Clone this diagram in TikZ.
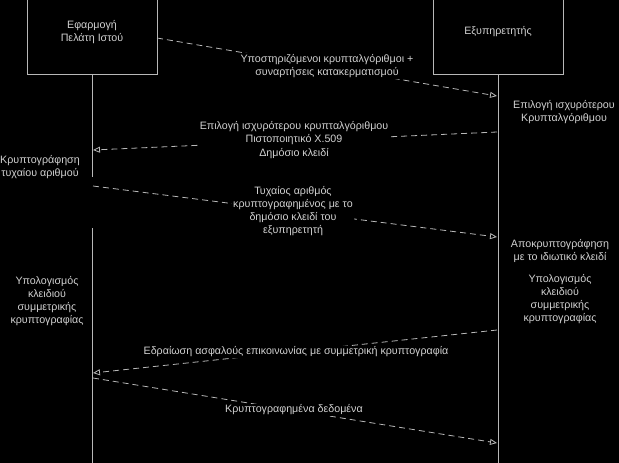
\documentclass[tikz,border=0pt]{standalone}
\usepackage{fontspec}
\setmainfont{Liberation Sans}
\usetikzlibrary{arrows.meta}
\definecolor{fg}{gray}{0.72}
\definecolor{tx}{gray}{0.82}
\tikzset{
  actor/.style={draw=fg, line width=0.9pt, minimum width=130pt, minimum height=84pt, text=tx, align=center, inner sep=0pt, font=\fontsize{10.7}{13}\selectfont},
  life/.style={draw=fg, line width=0.9pt},
  msg/.style={draw=fg, line width=0.8pt, dash pattern=on 6pt off 4pt, -{Triangle[open, length=7pt, width=6pt]}},
  lbl/.style={text=tx, fill=black, align=center, inner sep=1pt, font=\fontsize{10.7}{13.2}\selectfont},
  note/.style={text=tx, align=center, inner sep=0pt, font=\fontsize{10.7}{13}\selectfont}
}
\begin{document}
\begin{tikzpicture}[x=1pt, y=-1pt]
\fill[black] (0,0) rectangle (619,463);
\useasboundingbox (0,0) rectangle (619,463);
\clip (0,0) rectangle (619,463);
% actors
\node[actor] (lbox) at (92,32) {Εφαρμογή\\Πελάτη Ιστού};
\node[actor] (rbox) at (498,32) {Εξυπηρετητής};
% lifelines
\coordinate (lA) at (92,177);
\coordinate (lB) at (92,228);
\coordinate (lEnd) at (92,463);
\coordinate (rEnd) at (498,463);
\draw[life] (lbox.south) -- (lA);
\draw[life] (lB) -- (lEnd);
\draw[life] (rbox.south) -- (rEnd);
% message points
\coordinate (m1s) at (157,38);  \coordinate (m1e) at (497,96);
\coordinate (m2s) at (497,132); \coordinate (m2e) at (93,150);
\coordinate (m3s) at (93,186);  \coordinate (m3e) at (497,237);
\coordinate (m4s) at (497,330); \coordinate (m4e) at (93,373);
\coordinate (m5s) at (93,378);  \coordinate (m5e) at (497,443);
\draw[msg] (m1s) -- (m1e);
\draw[msg] (m2s) -- (m2e);
\draw[msg] (m3s) -- (m3e);
\draw[msg] (m4s) -- (m4e);
\draw[msg] (m5s) -- (m5e);
% labels
\node[lbl] (t1) at (327,66) {Υποστηριζόμενοι κρυπταλγόριθμοι +\\συναρτήσεις κατακερματισμού};
\node[lbl] (t2) at (294,140) {Επιλογή ισχυρότερου κρυπταλγόριθμου\\Πιστοποιητικό X.509\\Δημόσιο κλειδί};
\node[lbl] (t3) at (293,211) {Τυχαίος αριθμός\\κρυπτογραφημένος με το\\δημόσιο κλειδί του\\εξυπηρετητή};
\node[lbl] (t4) at (296,352) {Εδραίωση ασφαλούς επικοινωνίας με συμμετρική κρυπτογραφία};
\node[lbl] (t5) at (294,410) {Κρυπτογραφημένα δεδομένα};
% notes
\node[note] (n1) at (564,112) {Επιλογή ισχυρότερου\\Κρυπταλγόριθμου};
\node[note] (n2) at (40,167) {Κρυπτογράφηση\\τυχαίου αριθμού};
\node[note] (n3) at (560,251) {Αποκρυπτογράφηση\\με το ιδιωτικό κλειδί};
\node[note] (n4) at (560,299) {Υπολογισμός\\κλειδιού\\συμμετρικής\\κρυπτογραφίας};
\node[note] (n5) at (47,301) {Υπολογισμός\\κλειδιού\\συμμετρικής\\κρυπτογραφίας};
\end{tikzpicture}
\end{document}
